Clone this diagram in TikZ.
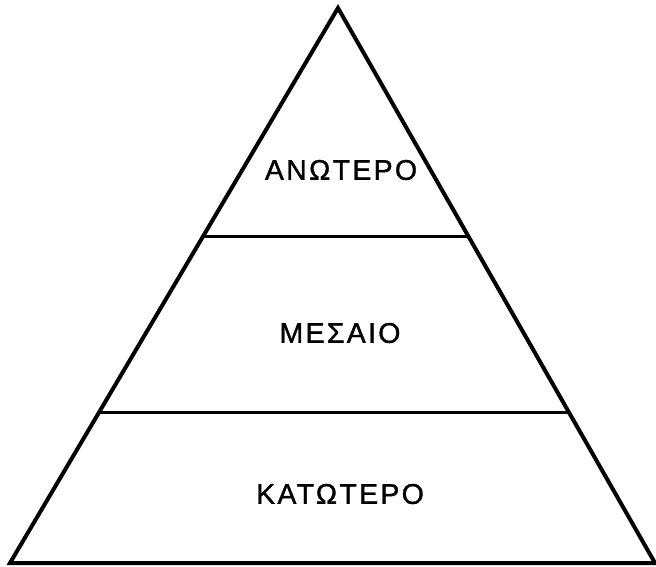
\documentclass[tikz,border=0pt]{standalone}
\usepackage{fontspec}
\setmainfont{Liberation Sans}
\newfontfamily\lblfont[LetterSpace=8,FakeBold=1.2]{Liberation Sans}
\begin{document}
\begin{tikzpicture}[x=1pt,y=-1pt,
  edge/.style={line width=4pt,line join=miter},
  band/.style={line width=3pt},
  lbl/.style={font=\lblfont\fontsize{28.5}{28.5}\selectfont,inner sep=0pt}]
\useasboundingbox (0,0) rectangle (656,566);
\coordinate (top) at (338,8);
\coordinate (bl) at (10,563);
\coordinate (br) at (655,563);
\coordinate (a1) at (203,236);
\coordinate (b1) at (468,236);
\coordinate (a2) at (99,412);
\coordinate (b2) at (569,412);
\draw[edge] (bl) -- (top) -- (br) -- cycle;
\draw[band] (a1) -- (b1);
\draw[band] (a2) -- (b2);
\node[lbl] (up) at (341,170) {ΑΝΩΤΕΡΟ};
\node[lbl] (mid) at (340,333) {ΜΕΣΑΙΟ};
\node[lbl] (low) at (340,494) {ΚΑΤΩΤΕΡΟ};
\end{tikzpicture}
\end{document}
